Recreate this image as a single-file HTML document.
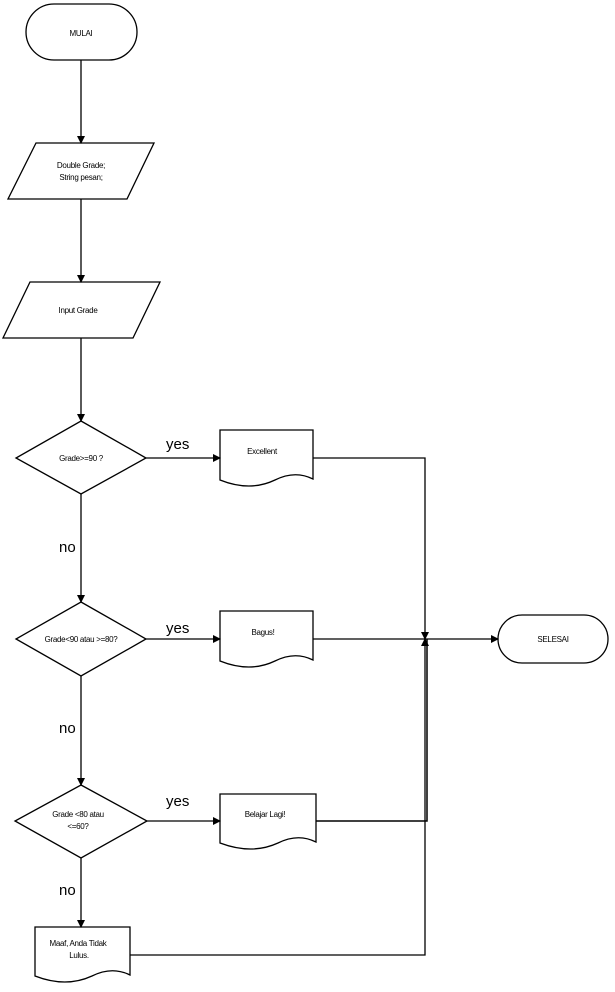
<!DOCTYPE html>
<html><head><style>
html,body{margin:0;padding:0;background:#fff;}
svg text{font-family:"Liberation Sans",Arial,sans-serif;fill:#000;}
.s{font-size:8px;letter-spacing:-0.3px}
.l{font-size:15px}
</style></head><body>
<svg width="615" height="987" viewBox="0 0 615 987" xmlns="http://www.w3.org/2000/svg">
<defs><marker id="a" markerWidth="8" markerHeight="8" refX="7" refY="4" orient="auto" markerUnits="userSpaceOnUse"><path d="M0,0 L8,4 L0,8 z" fill="#000"/></marker></defs>
<g fill="none" stroke="#000" stroke-width="1.3">
<rect x="26" y="4" width="111" height="56" rx="28"/>
<polygon points="36,143 154,143 127,199 8,199"/>
<polygon points="30,282 160,282 133,338 3,338"/>
<polygon points="81,421 146,458 81,494 16,458"/>
<polygon points="81,602 146,639 81,676 16,639"/>
<polygon points="81,785 147,821 81,858 15,821"/>
<path d="M220,430 H313 V479 Q295,470 275,480 Q250,492 220,480 Z"/>
<path d="M220,611 H313 V660 Q295,651 275,661 Q250,673 220,661 Z"/>
<path d="M220,794 H316 V842 Q298,833 278,843 Q252,855 220,843 Z"/>
<path d="M35,927 H130 V975 Q112,966 92,976 Q66,988 35,976 Z"/>
<rect x="498" y="615" width="110" height="48" rx="24"/>
<line x1="81" y1="60" x2="81" y2="143" marker-end="url(#a)"/>
<line x1="81" y1="199" x2="81" y2="282" marker-end="url(#a)"/>
<line x1="81" y1="338" x2="81" y2="421" marker-end="url(#a)"/>
<line x1="81" y1="494" x2="81" y2="602" marker-end="url(#a)"/>
<line x1="81" y1="676" x2="81" y2="785" marker-end="url(#a)"/>
<line x1="81" y1="858" x2="81" y2="927" marker-end="url(#a)"/>
<line x1="146" y1="458" x2="220" y2="458" marker-end="url(#a)"/>
<line x1="146" y1="639" x2="220" y2="639" marker-end="url(#a)"/>
<line x1="147" y1="821" x2="220" y2="821" marker-end="url(#a)"/>
<polyline points="313,458 425,458 425,639" marker-end="url(#a)"/>
<line x1="313" y1="639" x2="425" y2="639"/>
<polyline points="130,955 425,955 425,639" marker-end="url(#a)"/>
<polyline points="316,821 427,821 427,639" stroke-width="1.5"/>
<line x1="425" y1="639" x2="498" y2="639" marker-end="url(#a)"/>
</g>
<text class="s" x="81" y="36" text-anchor="middle">MULAI</text>
<text class="s" x="81" y="168" text-anchor="middle">Double Grade;</text>
<text class="s" x="81" y="180" text-anchor="middle">String pesan;</text>
<text class="s" x="78" y="313" text-anchor="middle">Input Grade</text>
<text class="s" x="81" y="461" text-anchor="middle">Grade&gt;=90 ?</text>
<text class="s" x="81" y="642" text-anchor="middle">Grade&lt;90 atau &gt;=80?</text>
<text class="s" x="78" y="817" text-anchor="middle">Grade &lt;80 atau</text>
<text class="s" x="78" y="829" text-anchor="middle">&lt;=60?</text>
<text class="s" x="262" y="454" text-anchor="middle">Excellent</text>
<text class="s" x="263" y="635" text-anchor="middle">Bagus!</text>
<text class="s" x="265" y="817" text-anchor="middle">Belajar Lagi!</text>
<text class="s" x="78" y="946" text-anchor="middle">Maaf, Anda Tidak</text>
<text class="s" x="79" y="958" text-anchor="middle">Lulus.</text>
<text class="s" x="553" y="642" text-anchor="middle">SELESAI</text>
<text class="l" x="166" y="449">yes</text>
<text class="l" x="166" y="633">yes</text>
<text class="l" x="166" y="806">yes</text>
<text class="l" x="59" y="552">no</text>
<text class="l" x="59" y="733">no</text>
<text class="l" x="59" y="895">no</text>
</svg>
</body></html>
